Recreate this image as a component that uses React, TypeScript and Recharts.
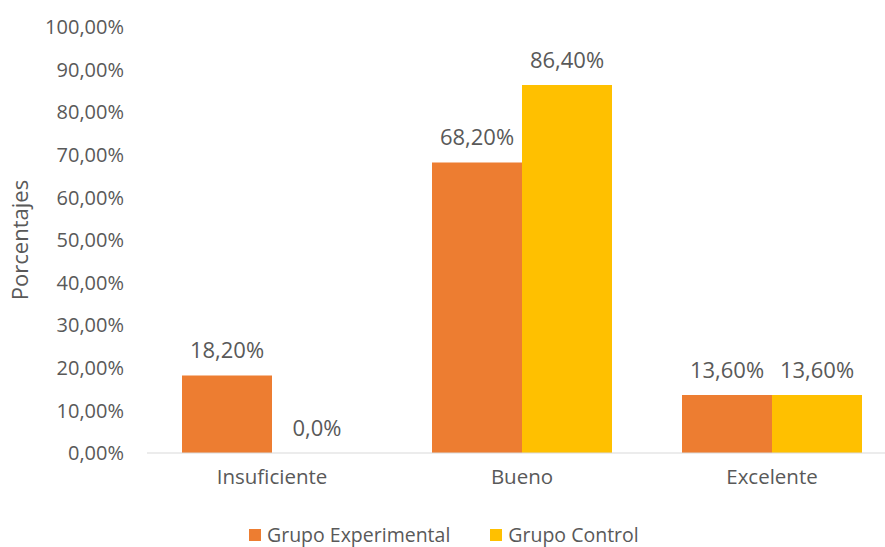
import React from 'react';
import { BarChart, Bar, XAxis, YAxis, Legend, LabelList } from 'recharts';

const categories = ['Insuficiente', 'Bueno', 'Excelente'];
const experimental = [18.2, 68.2, 13.6];
const control = [0, 86.4, 13.6];
const yTicks = [0, 10, 20, 30, 40, 50, 60, 70, 80, 90, 100];

const ORANGE = '#ED7D31';
const YELLOW = '#FFC000';
const TEXT = '#595959';
const FONT = '"Open Sans", "Noto Sans", sans-serif';

const data = categories.map((name, i) => ({
  name,
  experimental: experimental[i],
  control: control[i],
}));

const fmtTick = (v: number) => `${v.toFixed(2).replace('.', ',')}%`;
const fmtLabel = (v: any) => {
  const n = Number(v);
  return n === 0 ? '0,0%' : `${n.toFixed(2).replace('.', ',')}%`;
};

const labelText = (cx: number, y: number, value: number, key: string) => (
  <text key={key} x={cx} y={y - 17} textAnchor="middle" fill={TEXT} fontSize={22} fontFamily={FONT}>
    {fmtLabel(value)}
  </text>
);

// zero-height bars get no label entry, so the orange series also draws
// the label of a zero control bar next to it, on the baseline
const renderExpLabel = (props: any) => {
  const { x, y, width, height, value, index } = props;
  const bx = Number(x);
  const bw = Number(width);
  const out = [labelText(bx + bw / 2, Number(y), Number(value), 'e')];
  const c = control[index];
  if (c === 0) out.push(labelText(bx + bw * 1.5, Number(y) + Number(height), c, 'c'));
  return <g>{out}</g>;
};

const renderCtlLabel = (props: any) => {
  const { x, y, width, value } = props;
  if (value === undefined || value === null || Number(value) === 0) return null;
  return labelText(Number(x) + Number(width) / 2, Number(y), Number(value), 'c');
};

function LegendContent() {
  const items = [
    { label: 'Grupo Experimental', color: ORANGE },
    { label: 'Grupo Control', color: YELLOW },
  ];
  return (
    <div style={{ display: 'flex', alignItems: 'center', height: 24, paddingLeft: 249 }}>
      {items.map((it) => (
        <div key={it.label} style={{ display: 'flex', alignItems: 'center', marginRight: 40 }}>
          <span style={{ display: 'inline-block', width: 12, height: 12, background: it.color, marginRight: 6 }} />
          <span style={{ fontFamily: FONT, fontSize: 19.5, lineHeight: 1.2, color: TEXT, whiteSpace: 'nowrap' }}>
            {it.label}
          </span>
        </div>
      ))}
    </div>
  );
}

export default function App() {
  return (
    <div style={{ position: 'absolute', left: 0, top: 0, width: 885, height: 547, overflow: 'hidden', background: '#fff' }}>
      <BarChart
        width={900}
        height={547}
        data={data}
        margin={{ top: 27, right: 3, left: 0, bottom: 0 }}
        barGap={0}
        barCategoryGap={35}
      >
        <XAxis
          dataKey="name"
          height={70}
          tickLine={false}
          axisLine={{ stroke: '#D9D9D9' }}
          tick={{ fill: TEXT, fontSize: 20.5, fontFamily: FONT }}
          tickMargin={10}
        />
        <YAxis
          width={147}
          domain={[0, 100]}
          ticks={yTicks}
          tickFormatter={fmtTick}
          axisLine={false}
          tickLine={false}
          tickMargin={17}
          tick={{ fill: TEXT, fontSize: 20, fontFamily: FONT }}
          label={{
            value: 'Porcentajes',
            position: 'insideLeft',
            content: (props: any) => {
              const vb = props.viewBox || { y: 27, height: 426 };
              const cy = vb.y + vb.height / 2;
              return (
                <text
                  x={19}
                  y={cy}
                  transform={`rotate(-90, 19, ${cy})`}
                  textAnchor="middle"
                  dominantBaseline="central"
                  fill={TEXT}
                  fontSize={22}
                  fontFamily={FONT}
                >
                  Porcentajes
                </text>
              );
            },
          }}
        />
        <Legend verticalAlign="bottom" height={24} wrapperStyle={{ height: 24 }} content={<LegendContent />} />
        <Bar dataKey="experimental" name="Grupo Experimental" fill={ORANGE} isAnimationActive={false}>
          <LabelList dataKey="experimental" content={renderExpLabel} />
        </Bar>
        <Bar dataKey="control" name="Grupo Control" fill={YELLOW} isAnimationActive={false}>
          <LabelList dataKey="control" content={renderCtlLabel} />
        </Bar>
      </BarChart>
    </div>
  );
}
